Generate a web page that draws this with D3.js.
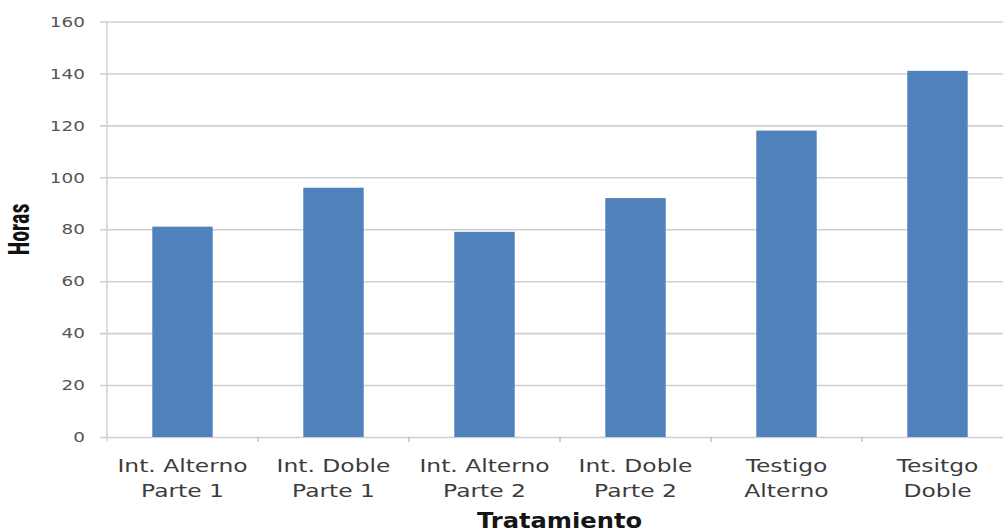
<!DOCTYPE html>
<html>
<head>
<meta charset="utf-8">
<script src="https://cdn.jsdelivr.net/npm/d3@7"></script>
<style>
  html, body { margin: 0; padding: 0; background: #fff; }
  svg { display: block; overflow: hidden; }
</style>
</head>
<body>
<svg id="chart" width="1003" height="531"></svg>
<script>
// Horas por tratamiento
const categories = [
  ["Int. Alterno", "Parte 1"],
  ["Int. Doble", "Parte 1"],
  ["Int. Alterno", "Parte 2"],
  ["Int. Doble", "Parte 2"],
  ["Testigo", "Alterno"],
  ["Tesitgo", "Doble"]
];
const horas = [81, 96, 79, 92, 118, 141];
const yTicks = [0, 20, 40, 60, 80, 100, 120, 140, 160];
const xTitle = "Tratamiento";
const yTitle = "Horas";

const plot = { left: 107, right: 1013, top: 21.5, bottom: 437 };

const svg = d3.select("#chart");

const x = d3.scaleBand()
  .domain(categories.map((d, i) => i))
  .range([plot.left, plot.right])
  .padding(0);

const y = d3.scaleLinear()
  .domain([0, 160])
  .range([plot.bottom, plot.top]);

// horizontal gridlines
const yAxis = d3.axisLeft(y)
  .tickValues(yTicks)
  .tickSize(plot.right - plot.left + 7)
  .tickFormat("");

const gy = svg.append("g")
  .attr("transform", `translate(${plot.right},0)`)
  .call(yAxis);
gy.select(".domain").remove();
gy.selectAll(".tick line")
  .attr("stroke", "#cfcfcf")
  .attr("stroke-width", 1.6);
gy.selectAll(".tick text").remove();

// y tick labels (wide lettering)
svg.append("g")
  .selectAll("text")
  .data(yTicks)
  .join("text")
  .attr("transform", d => `translate(${plot.left - 22},${y(d)}) scale(1.27,1)`)
  .attr("dy", "0.36em")
  .attr("text-anchor", "end")
  .attr("font-family", "DejaVu Sans, Verdana, sans-serif")
  .attr("font-size", 14.5)
  .attr("fill", "#555")
  .text(d => d);

// vertical axis line
svg.append("line")
  .attr("x1", plot.left).attr("x2", plot.left)
  .attr("y1", plot.top).attr("y2", plot.bottom + 4)
  .attr("stroke", "#d4d4d4")
  .attr("stroke-width", 1.6);

// tick marks between categories
svg.append("g")
  .selectAll("line")
  .data(d3.range(1, categories.length + 1))
  .join("line")
  .attr("x1", i => plot.left + i * x.bandwidth())
  .attr("x2", i => plot.left + i * x.bandwidth())
  .attr("y1", plot.bottom).attr("y2", plot.bottom + 5)
  .attr("stroke", "#bdbdbd")
  .attr("stroke-width", 1.4);

// bars
const barW = x.bandwidth() * 0.4;
svg.append("g")
  .selectAll("rect")
  .data(horas)
  .join("rect")
  .attr("x", (d, i) => x(i) + (x.bandwidth() - barW) / 2)
  .attr("y", d => y(d))
  .attr("width", barW)
  .attr("height", d => y(0) - y(d))
  .attr("fill", "#4f81bd");

// category labels (two lines)
const catG = svg.append("g")
  .selectAll("g")
  .data(categories)
  .join("g")
  .attr("transform", (d, i) => `translate(${x(i) + x.bandwidth() / 2},0)`);

catG.each(function(lines) {
  d3.select(this).selectAll("text")
    .data(lines)
    .join("text")
    .attr("transform", (t, k) => `translate(0,${471.5 + k * 25.5}) scale(1.3,1)`)
    .attr("text-anchor", "middle")
    .attr("font-family", "DejaVu Sans, Verdana, sans-serif")
    .attr("font-size", 18)
    .attr("fill", "#3c3c3c")
    .text(t => t);
});

// axis titles
svg.append("text")
  .attr("transform", `translate(559.5,527.5) scale(1.18,1)`)
  .attr("text-anchor", "middle")
  .attr("font-family", "DejaVu Sans, Verdana, sans-serif")
  .attr("font-weight", "bold")
  .attr("font-size", 20.5)
  .attr("fill", "#151515")
  .text(xTitle);

svg.append("text")
  .attr("transform", `translate(29,229.5) scale(1.3,1) rotate(-90)`)
  .attr("text-anchor", "middle")
  .attr("font-family", "Liberation Sans Narrow, Arial Narrow, Roboto Condensed, sans-serif")
  .attr("font-weight", "bold")
  .attr("font-size", 22)
  .attr("fill", "#111")
  .text(yTitle);
</script>
</body>
</html>
